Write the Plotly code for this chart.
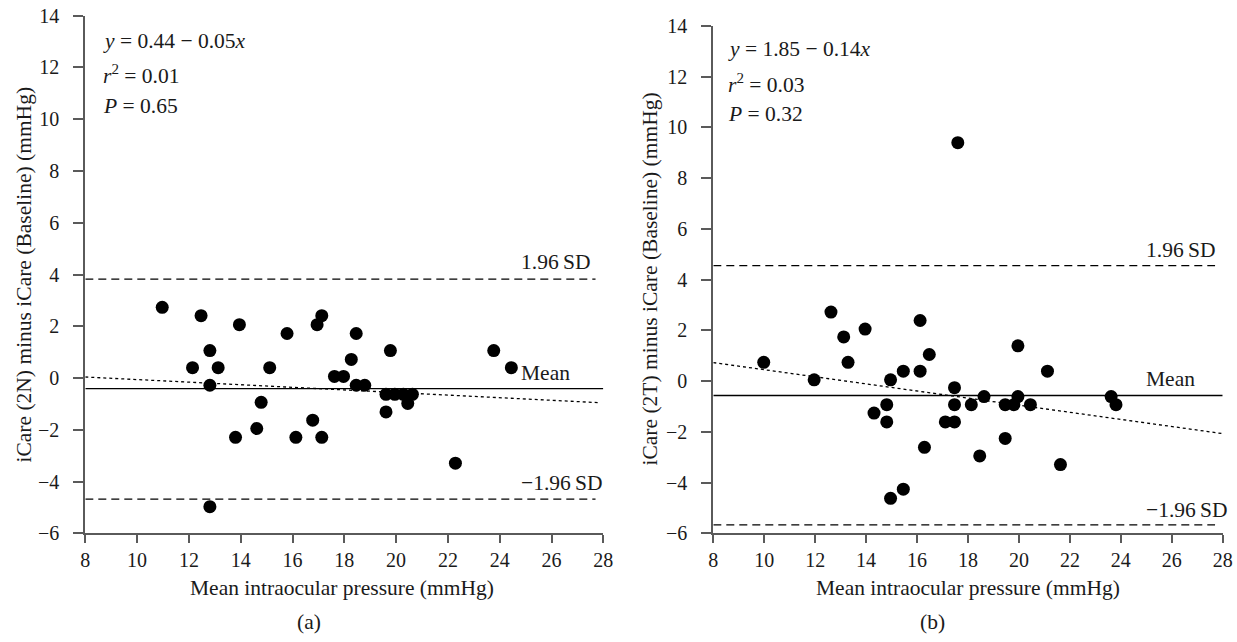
import plotly.graph_objects as go

W, H = 1237, 642

# ---------------- data ----------------
a_x = [10.97, 12.47, 12.14, 12.81, 12.81, 12.81, 13.13, 13.80, 13.95, 14.79, 14.62, 15.12,
       15.79, 16.13, 16.78, 16.95, 17.13, 17.13, 17.62, 17.97, 18.27, 18.46, 18.46, 18.79,
       19.61, 19.61, 19.78, 19.95, 20.28, 20.45, 20.63, 22.29, 23.77, 24.45]
a_y = [2.73, 2.41, 0.40, 1.06, -0.28, -4.97, 0.40, -2.29, 2.06, -0.94, -1.95, 0.40,
       1.72, -2.29, -1.63, 2.06, 2.41, -2.29, 0.06, 0.06, 0.72, 1.72, -0.28, -0.28,
       -0.63, -1.31, 1.06, -0.63, -0.63, -0.98, -0.63, -3.29, 1.06, 0.40]

b_x = [9.98, 11.96, 12.62, 13.12, 13.29, 13.96, 14.31, 14.81, 14.81, 14.96, 14.96, 15.46,
       15.46, 16.12, 16.12, 16.29, 16.48, 17.11, 17.47, 17.47, 17.47, 17.60, 18.13, 18.46,
       18.63, 19.46, 19.46, 19.80, 19.96, 19.96, 20.45, 21.12, 21.63, 23.62, 23.81]
b_y = [0.74, 0.05, 2.72, 1.74, 0.74, 2.05, -1.26, -0.93, -1.61, 0.05, -4.62, 0.39,
       -4.26, 2.39, 0.39, -2.61, 1.05, -1.61, -0.26, -0.93, -1.61, 9.40, -0.93, -2.95,
       -0.61, -0.93, -2.26, -0.93, 1.39, -0.61, -0.93, 0.39, -3.29, -0.61, -0.93]

# Bland-Altman summary lines: mean, +1.96 SD, -1.96 SD
a_mean, a_upper, a_lower = -0.41, 3.82, -4.68
b_mean, b_upper, b_lower = -0.57, 4.55, -5.67

# regression: y = intercept + slope * x
a_intercept, a_slope = 0.44, -0.05
b_intercept, b_slope = 1.85, -0.14

a_stats = ["<i>y</i> = 0.44 − 0.05<i>x</i>", "<i>r</i><sup>2</sup> = 0.01", "<i>P</i> = 0.65"]
b_stats = ["<i>y</i> = 1.85 − 0.14<i>x</i>", "<i>r</i><sup>2</sup> = 0.03", "<i>P</i> = 0.32"]

x_ticks = [8, 10, 12, 14, 16, 18, 20, 22, 24, 26, 28]
y_ticks = [-6, -4, -2, 0, 2, 4, 6, 8, 10, 12, 14]

ytitle_a = "iCare (2N) minus iCare (Baseline) (mmHg)"
ytitle_b = "iCare (2T) minus iCare (Baseline) (mmHg)"
xtitle = "Mean intraocular pressure (mmHg)"

FONT = "Liberation Serif"
FS = 21.5
TFS = 20
AX = "#5a5a5a"
TXT = "#1a1a1a"

def px(x):
    return x / W

def py(y):
    return 1 - y / H

fig = go.Figure()

def add_panel(xs, ys, mean, up, lo, b0, b1, xa, ya, xend_dash, xend_reg):
    fig.add_trace(go.Scatter(x=[8, xend_reg], y=[b0 + b1 * 8, b0 + b1 * xend_reg], mode="lines",
                             line=dict(color="black", width=1.3, dash="dot"),
                             xaxis=xa, yaxis=ya, showlegend=False, hoverinfo="skip"))
    fig.add_trace(go.Scatter(x=[8, 28], y=[mean, mean], mode="lines",
                             line=dict(color="black", width=1.4),
                             xaxis=xa, yaxis=ya, showlegend=False, hoverinfo="skip"))
    for v in (up, lo):
        fig.add_trace(go.Scatter(x=[8, xend_dash], y=[v, v], mode="lines",
                                 line=dict(color="black", width=1.3, dash="8px,5px"),
                                 xaxis=xa, yaxis=ya, showlegend=False, hoverinfo="skip"))
    fig.add_trace(go.Scatter(x=xs, y=ys, mode="markers",
                             marker=dict(color="black", size=13, line=dict(width=0)),
                             xaxis=xa, yaxis=ya, showlegend=False, cliponaxis=False))

add_panel(a_x, a_y, a_mean, a_upper, a_lower, a_intercept, a_slope, "x", "y", 27.7, 27.8)
add_panel(b_x, b_y, b_mean, b_upper, b_lower, b_intercept, b_slope, "x2", "y2", 27.7, 28.0)

axis_common = dict(showgrid=False, zeroline=False, showline=True, linecolor=AX, linewidth=2,
                   ticks="outside", tickcolor=AX, tickwidth=2, automargin=False,
                   ticklabeloverflow="allow",
                   tickfont=dict(family=FONT, size=TFS, color=TXT))

fig.update_layout(
    width=W, height=H, margin=dict(l=0, r=0, t=0, b=0, pad=0),
    paper_bgcolor="white", plot_bgcolor="white",
    font=dict(family=FONT, size=FS, color=TXT),
    xaxis=dict(domain=[px(85.3), px(603.3)], range=[8, 28], tickvals=x_ticks, ticklen=8,
               anchor="y", **axis_common),
    yaxis=dict(domain=[py(533.3), py(15.7)], range=[-6, 14], tickvals=y_ticks, ticklen=10,
               ticklabelstandoff=10, anchor="x",
               tickformat="d", **axis_common),
    xaxis2=dict(domain=[px(713.3), px(1222.7)], range=[8, 28], tickvals=x_ticks, ticklen=8,
                anchor="y2", **axis_common),
    yaxis2=dict(domain=[py(533.3), py(26.0)], range=[-6, 14], tickvals=y_ticks, ticklen=10,
                ticklabelstandoff=10, anchor="x2",
                tickformat="d", **axis_common),
)

ann = []
# regression statistics
for i, t in enumerate(a_stats):
    ann.append(dict(x=px(100.5), y=py([40.7, 75, 106][i]), xref="paper", yref="paper",
                    text=t, showarrow=False, xanchor="left", yanchor="middle"))
for i, t in enumerate(b_stats):
    ann.append(dict(x=px(725.5), y=py([49.3, 83.3, 114.3][i]), xref="paper", yref="paper",
                    text=t, showarrow=False, xanchor="left", yanchor="middle"))

# line labels
for (xr, yr, x0, labs) in [("x", "y", 24.75, [(4.48, "1.96\u2009SD"), (0.2, "Mean"), (-4.06, "−1.96\u2009SD")]),
                           ("x2", "y2", 24.92, [(5.18, "1.96\u2009SD"), (0.09, "Mean"), (-5.08, "−1.96\u2009SD")])]:
    for yv, t in labs:
        ann.append(dict(x=x0, y=yv, xref=xr, yref=yr, text=t, showarrow=False,
                        xanchor="left", yanchor="middle"))

# axis titles
ann.append(dict(x=px(23), y=py(274.5), xref="paper", yref="paper", text=ytitle_a,
                textangle=-90, showarrow=False, xanchor="center", yanchor="middle"))
ann.append(dict(x=px(649), y=py(279.5), xref="paper", yref="paper", text=ytitle_b,
                textangle=-90, showarrow=False, xanchor="center", yanchor="middle"))
ann.append(dict(x=px(342), y=py(588), xref="paper", yref="paper", text=xtitle,
                showarrow=False, xanchor="center", yanchor="middle"))
ann.append(dict(x=px(968), y=py(588), xref="paper", yref="paper", text=xtitle,
                showarrow=False, xanchor="center", yanchor="middle"))
# panel labels
ann.append(dict(x=px(309), y=py(621.7), xref="paper", yref="paper", text="(a)",
                showarrow=False, xanchor="center", yanchor="middle"))
ann.append(dict(x=px(932), y=py(621.7), xref="paper", yref="paper", text="(b)",
                showarrow=False, xanchor="center", yanchor="middle"))

fig.update_layout(annotations=ann)

# remove the browser's default 8px body margin so the figure sits at the page origin
fig.write_html("out.html", config={"displayModeBar": False},
               post_script="document.body.style.margin='0';document.body.style.overflow='hidden';")
